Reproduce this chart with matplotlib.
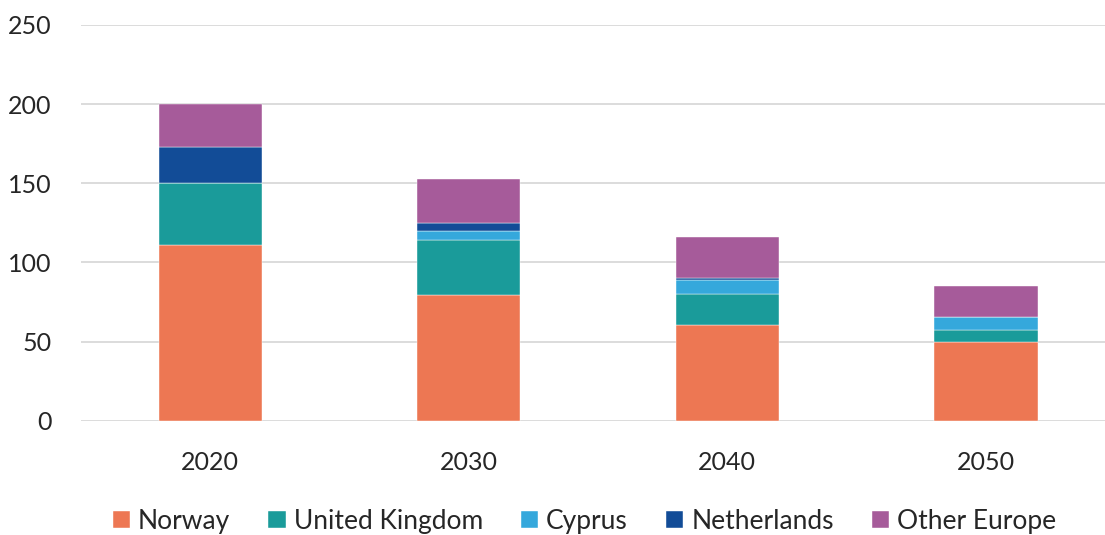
import numpy as np
import matplotlib; matplotlib.use("Agg")
import matplotlib.pyplot as plt

plt.rcParams['font.family'] = ['Lato', 'DejaVu Sans']

years = ['2020', '2030', '2040', '2050']
norway = [111.0, 79.3, 60.3, 49.7]
uk = [39.0, 34.7, 19.6, 7.4]
cyprus = [0.0, 5.9, 9.0, 8.6]
netherlands = [23.0, 5.1, 1.3, 0.0]
other = [27.3, 27.8, 25.7, 19.6]

series = [('Norway', norway, '#ED7753'), ('United Kingdom', uk, '#1A9B9A'),
          ('Cyprus', cyprus, '#35A8DC'), ('Netherlands', netherlands, '#124C97'),
          ('Other Europe', other, '#A65B9A')]

fig = plt.figure(figsize=(11.05, 5.35), dpi=100)
ax = fig.add_axes([0.0733, 0.2137, 0.9267, 0.7396])
x = np.arange(len(years))
bottom = np.zeros(len(years))
for lab, vals, col in series:
    vals = np.array(vals)
    ax.bar(x, vals, width=0.40, bottom=bottom, color=col, label=lab,
           edgecolor='white', linewidth=0.3, zorder=3)
    bottom += vals

ax.set_ylim(0, 250)
ax.set_yticks(range(0, 251, 50))
ax.set_xlim(-0.5, 3.461)
ax.set_xticks(x)
ax.set_xticklabels(years)
ax.yaxis.grid(True, color='#D9D9D9', linewidth=1.3, zorder=0)
for s in ax.spines.values():
    s.set_visible(False)
ax.tick_params(axis='both', length=0, labelsize=18, colors='#262626')
ax.tick_params(axis='y', pad=21)
ax.tick_params(axis='x', pad=22)

fig.legend(loc='center', bbox_to_anchor=(0.529, 0.026), ncol=5, frameon=False,
           fontsize=19, handlelength=0.65, handleheight=0.65, handletextpad=0.3,
           columnspacing=1.45, labelcolor='#262626')

fig.savefig('out.png', dpi=100)
